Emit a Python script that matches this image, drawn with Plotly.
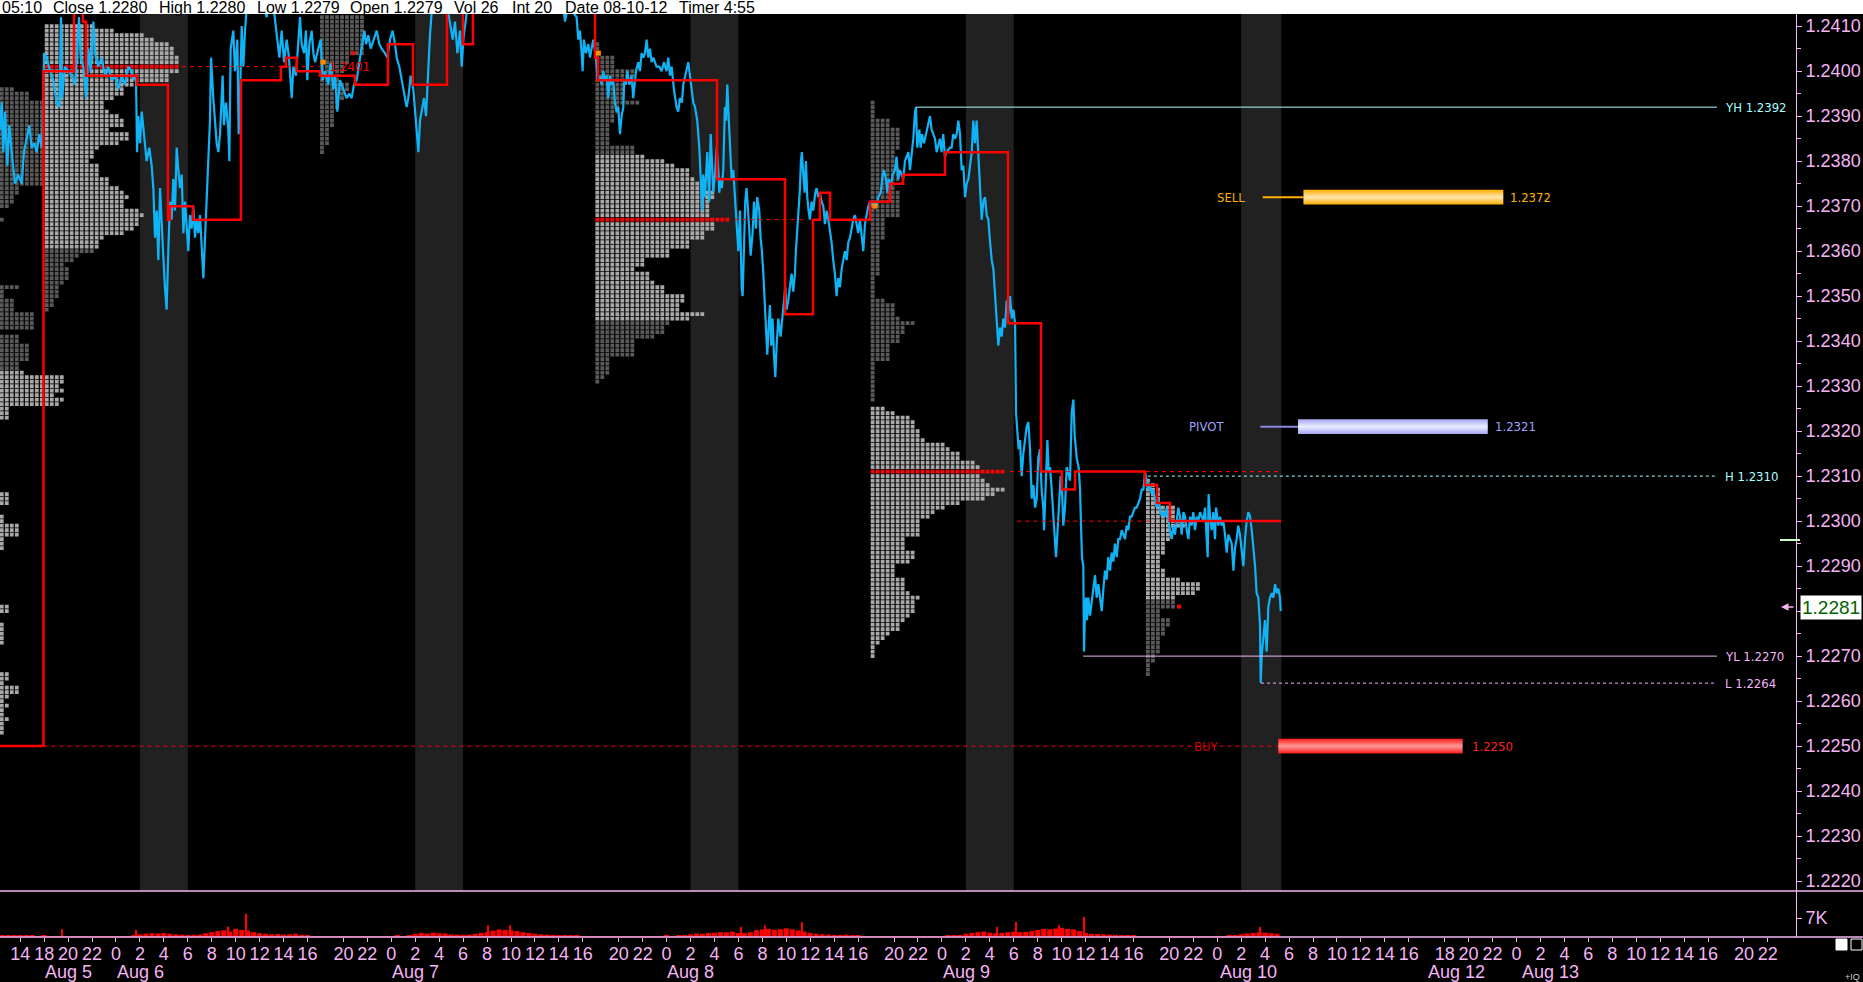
import plotly.graph_objects as go

# ------------------------------------------------------------------ values
# x unit = trading hour index (0 = Aug 6 00:00, the 17:00-18:00 break removed)
HEADER_FIELDS = ["05:10", "Close 1.2280", "High 1.2280", "Low 1.2279", "Open 1.2279",
                 "Vol 26", "Int 20", "Date 08-10-12", "Timer 4:55"]

PATH_FRI_SUN = [
    (-9.69, 1.2387), (-9.55, 1.2393), (-9.41, 1.2382), (-9.27, 1.2391), (-9.08, 1.2379), (-8.91, 1.2388),
    (-8.72, 1.2382), (-8.58, 1.2378), (-8.44, 1.2375), (-8.16, 1.2377), (-7.88, 1.2375), (-7.69, 1.2382),
    (-7.46, 1.2385), (-7.24, 1.2388), (-7.05, 1.2383), (-6.82, 1.2384), (-6.63, 1.2382), (-6.40, 1.2386),
    (-6.21, 1.2383), (-6.13, 1.2387), (-6.01, 1.2404), (-5.79, 1.2403), (-5.51, 1.2400), (-5.23, 1.2398),
    (-4.96, 1.2393), (-4.73, 1.2392), (-4.59, 1.2412), (-4.51, 1.2394), (-4.26, 1.2401), (-3.98, 1.2400),
    (-3.70, 1.2399), (-3.42, 1.2397), (-3.09, 1.2412), (-2.95, 1.2403), (-2.73, 1.2401), (-2.51, 1.2394),
    (-2.31, 1.2405), (-2.12, 1.2400), (-1.89, 1.2411), (-1.75, 1.2404), (-1.47, 1.2401), (-1.20, 1.2403),
    (-0.92, 1.2399), (-0.64, 1.2401), (-0.36, 1.2398), (-0.08, 1.2399), (0.20, 1.2396), (0.47, 1.2399),
    (0.75, 1.2397), (1.03, 1.2401), (1.31, 1.2400), (1.50, 1.2398), (1.67, 1.2399),
]
PATH_AUG6 = [
    (1.76, 1.2382), (1.87, 1.2390), (2.01, 1.2384), (2.15, 1.2391), (2.34, 1.2386), (2.56, 1.2380),
    (2.78, 1.2383), (2.98, 1.2379), (3.12, 1.2374), (3.26, 1.2363), (3.40, 1.2369), (3.54, 1.2358),
    (3.68, 1.2374), (3.82, 1.2365), (3.95, 1.2359), (4.09, 1.2352), (4.23, 1.2347), (4.37, 1.2360),
    (4.51, 1.2371), (4.65, 1.2367), (4.79, 1.2376), (4.93, 1.2369), (5.07, 1.2383), (5.21, 1.2378),
    (5.35, 1.2374), (5.49, 1.2377), (5.63, 1.2364), (5.77, 1.2371), (5.90, 1.2366), (6.04, 1.2360),
    (6.18, 1.2368), (6.32, 1.2365), (6.46, 1.2370), (6.60, 1.2363), (6.74, 1.2367), (6.88, 1.2364),
    (7.02, 1.2368), (7.16, 1.2360), (7.30, 1.2354), (7.44, 1.2363), (7.58, 1.2373), (7.71, 1.2382),
    (7.85, 1.2389), (7.94, 1.2403), (8.13, 1.2394), (8.41, 1.2384), (8.55, 1.2382), (8.69, 1.2386),
    (8.91, 1.2399), (9.02, 1.2388), (9.19, 1.2393), (9.38, 1.2387), (9.47, 1.2380), (9.58, 1.2405),
    (9.80, 1.2409), (9.94, 1.2400), (10.14, 1.2407), (10.25, 1.2386), (10.36, 1.2394), (10.50, 1.2410),
    (10.64, 1.2401), (10.78, 1.2409), (10.92, 1.2414), (11.70, 1.2422), (12.59, 1.2412), (13.00, 1.2418),
    (13.48, 1.2406), (13.65, 1.2403), (13.84, 1.2409), (14.04, 1.2402), (14.26, 1.2407), (14.45, 1.2403),
    (14.68, 1.2394), (14.82, 1.2401), (15.04, 1.2399), (15.23, 1.2408), (15.37, 1.2412), (15.51, 1.2406),
    (15.71, 1.2404), (15.87, 1.2409), (15.98, 1.2398), (16.15, 1.2406), (16.35, 1.2409), (16.49, 1.2404),
    (16.63, 1.2402), (16.90, 1.2405),
]
PATH_AUG7 = [
    (17.10, 1.2407), (17.27, 1.2398), (17.46, 1.2400), (17.74, 1.2397), (17.93, 1.2402), (18.16, 1.2396),
    (18.30, 1.2399), (18.49, 1.2391), (18.71, 1.2398), (18.99, 1.2396), (19.27, 1.2394), (19.49, 1.2395),
    (19.69, 1.2394), (19.88, 1.2397), (20.11, 1.2398), (20.33, 1.2402), (20.52, 1.2405), (20.75, 1.2409),
    (20.89, 1.2406), (21.08, 1.2408), (21.28, 1.2405), (21.50, 1.2407), (21.78, 1.2409), (22.00, 1.2406),
    (22.19, 1.2405), (22.47, 1.2404), (22.67, 1.2403), (22.89, 1.2407), (23.11, 1.2409), (23.31, 1.2406),
    (23.45, 1.2403), (23.67, 1.2401), (23.87, 1.2398), (24.06, 1.2396), (24.28, 1.2392), (24.42, 1.2394),
    (24.62, 1.2399), (24.84, 1.2396), (25.06, 1.2388), (25.26, 1.2382), (25.40, 1.2389), (25.54, 1.2391),
    (25.73, 1.2394), (25.90, 1.2390), (26.07, 1.2400), (26.23, 1.2408), (26.37, 1.2413), (27.20, 1.2422),
    (28.13, 1.2407), (28.32, 1.2411), (28.52, 1.2404), (28.74, 1.2409), (28.88, 1.2401), (29.02, 1.2407),
    (29.16, 1.2410), (29.30, 1.2413), (30.00, 1.2424), (37.00, 1.2424),
]
PATH_AUG8 = [
    (37.51, 1.2411), (37.65, 1.2413), (37.92, 1.2414), (38.48, 1.2412), (38.62, 1.2407), (38.76, 1.2409),
    (38.90, 1.2404), (38.98, 1.2400), (39.09, 1.2407), (39.26, 1.2404), (39.46, 1.2406), (39.60, 1.2403),
    (39.73, 1.2405), (39.87, 1.2407), (40.10, 1.2403), (40.24, 1.2398), (40.43, 1.2399), (40.57, 1.2397),
    (40.71, 1.2400), (40.85, 1.2398), (40.99, 1.2399), (41.13, 1.2394), (41.27, 1.2399), (41.40, 1.2397),
    (41.54, 1.2398), (41.68, 1.2393), (41.82, 1.2391), (41.96, 1.2392), (42.10, 1.2386), (42.24, 1.2390),
    (42.38, 1.2392), (42.46, 1.2398), (42.60, 1.2397), (42.71, 1.2400), (42.88, 1.2397), (43.08, 1.2399),
    (43.21, 1.2394), (43.44, 1.2400), (43.63, 1.2402), (43.77, 1.2400), (43.91, 1.2404), (44.05, 1.2403),
    (44.19, 1.2404), (44.33, 1.2407), (44.47, 1.2403), (44.61, 1.2405), (44.75, 1.2402), (44.89, 1.2403),
    (45.02, 1.2402), (45.16, 1.2401), (45.39, 1.2401), (45.58, 1.2400), (45.78, 1.2402), (46.00, 1.2400),
    (46.14, 1.2403), (46.28, 1.2399), (46.42, 1.2401), (46.61, 1.2396), (46.83, 1.2392), (46.97, 1.2391),
    (47.11, 1.2394), (47.28, 1.2393), (47.39, 1.2397), (47.62, 1.2400), (47.81, 1.2402), (47.95, 1.2399),
    (48.09, 1.2396), (48.23, 1.2393), (48.37, 1.2392), (48.56, 1.2389), (48.73, 1.2383), (48.84, 1.2375),
    (48.98, 1.2369), (49.06, 1.2377), (49.20, 1.2372), (49.40, 1.2382), (49.56, 1.2371), (49.68, 1.2386),
    (49.79, 1.2378), (49.90, 1.2373), (50.04, 1.2377), (50.18, 1.2383), (50.32, 1.2378), (50.40, 1.2373),
    (50.51, 1.2376), (50.62, 1.2374), (50.73, 1.2378), (50.87, 1.2392), (50.96, 1.2389), (51.07, 1.2397),
    (51.18, 1.2390), (51.29, 1.2384), (51.43, 1.2376), (51.57, 1.2378), (51.74, 1.2371), (51.85, 1.2364),
    (51.99, 1.2360), (52.13, 1.2369), (52.27, 1.2352), (52.35, 1.2350), (52.46, 1.2364), (52.57, 1.2371),
    (52.68, 1.2374), (52.79, 1.2368), (52.90, 1.2365), (53.02, 1.2359), (53.18, 1.2364), (53.30, 1.2371),
    (53.46, 1.2365), (53.57, 1.2372), (53.74, 1.2369), (53.85, 1.2363), (53.96, 1.2360), (54.08, 1.2355),
    (54.19, 1.2348), (54.30, 1.2341), (54.41, 1.2337), (54.52, 1.2343), (54.63, 1.2348), (54.74, 1.2339),
    (54.85, 1.2345), (54.97, 1.2337), (55.08, 1.2332), (55.19, 1.2339), (55.33, 1.2345), (55.52, 1.2341),
    (55.69, 1.2346), (55.80, 1.2350), (55.91, 1.2352), (56.02, 1.2347), (56.16, 1.2349), (56.30, 1.2352),
    (56.44, 1.2355), (56.58, 1.2351), (56.72, 1.2355), (56.80, 1.2360), (56.92, 1.2365), (57.03, 1.2369),
    (57.14, 1.2374), (57.22, 1.2380), (57.30, 1.2382), (57.42, 1.2377), (57.53, 1.2373), (57.64, 1.2380),
    (57.75, 1.2372), (57.86, 1.2369), (57.97, 1.2367), (58.11, 1.2371), (58.25, 1.2369), (58.42, 1.2373),
    (58.53, 1.2374), (58.67, 1.2372), (58.81, 1.2373), (58.95, 1.2371), (59.09, 1.2370), (59.23, 1.2366),
    (59.37, 1.2369), (59.51, 1.2367), (59.64, 1.2365), (59.78, 1.2362), (59.92, 1.2358), (60.06, 1.2355),
    (60.20, 1.2350), (60.34, 1.2354), (60.48, 1.2352), (60.62, 1.2356), (60.76, 1.2358), (60.90, 1.2360),
    (61.04, 1.2358), (61.18, 1.2362), (61.32, 1.2363), (61.45, 1.2365), (61.59, 1.2367), (61.73, 1.2368),
    (61.87, 1.2366), (62.01, 1.2364), (62.15, 1.2367), (62.29, 1.2364), (62.43, 1.2360), (62.57, 1.2366),
    (62.71, 1.2368), (62.85, 1.2370),
]
PATH_AUG9 = [
    (62.99, 1.2371), (63.13, 1.2370), (63.26, 1.2371), (63.54, 1.2370), (63.68, 1.2372), (63.88, 1.2373),
    (64.05, 1.2377), (64.16, 1.2378), (64.32, 1.2376), (64.43, 1.2373), (64.55, 1.2376), (64.71, 1.2374),
    (64.88, 1.2377), (65.07, 1.2378), (65.21, 1.2381), (65.35, 1.2376), (65.49, 1.2378), (65.63, 1.2377),
    (65.77, 1.2376), (65.91, 1.2380), (66.05, 1.2381), (66.19, 1.2382), (66.33, 1.2378), (66.47, 1.2382),
    (66.61, 1.2385), (66.75, 1.2391), (66.83, 1.2392), (66.94, 1.2383), (67.11, 1.2387), (67.22, 1.2383),
    (67.33, 1.2386), (67.50, 1.2384), (67.66, 1.2386), (67.86, 1.2388), (68.00, 1.2390), (68.14, 1.2387),
    (68.28, 1.2386), (68.42, 1.2385), (68.56, 1.2382), (68.70, 1.2384), (68.83, 1.2385), (68.97, 1.2382),
    (69.11, 1.2386), (69.25, 1.2381), (69.39, 1.2382), (69.67, 1.2383), (69.81, 1.2383), (69.95, 1.2386),
    (70.09, 1.2385), (70.23, 1.2386), (70.37, 1.2389), (70.51, 1.2386), (70.65, 1.2378), (70.79, 1.2379),
    (70.93, 1.2372), (71.07, 1.2375), (71.21, 1.2376), (71.35, 1.2379), (71.49, 1.2382), (71.62, 1.2389),
    (71.76, 1.2384), (71.90, 1.2389), (72.04, 1.2382), (72.13, 1.2375), (72.24, 1.2370), (72.32, 1.2367),
    (72.46, 1.2371), (72.60, 1.2372), (72.74, 1.2368), (72.88, 1.2367), (73.02, 1.2362), (73.16, 1.2358),
    (73.30, 1.2356), (73.43, 1.2351), (73.57, 1.2346), (73.71, 1.2339), (73.85, 1.2343), (73.99, 1.2341),
    (74.13, 1.2345), (74.27, 1.2343), (74.41, 1.2349), (74.55, 1.2346), (74.69, 1.2350), (74.83, 1.2345),
    (74.97, 1.2347), (75.11, 1.2344), (75.19, 1.2324), (75.30, 1.2319), (75.41, 1.2316), (75.52, 1.2318),
    (75.66, 1.2310), (75.80, 1.2315), (75.94, 1.2318), (76.08, 1.2321), (76.22, 1.2322), (76.36, 1.2316),
    (76.50, 1.2305), (76.64, 1.2308), (76.78, 1.2303), (76.92, 1.2305), (77.05, 1.2314), (77.19, 1.2316),
    (77.33, 1.2307), (77.47, 1.2303), (77.53, 1.2298), (77.70, 1.2310), (77.81, 1.2318), (77.92, 1.2311),
    (78.03, 1.2312), (78.17, 1.2307), (78.31, 1.2301), (78.45, 1.2297), (78.53, 1.2292), (78.64, 1.2297),
    (78.78, 1.2305), (78.92, 1.2310), (79.03, 1.2307), (79.14, 1.2299), (79.28, 1.2303), (79.42, 1.2312),
    (79.53, 1.2311), (79.70, 1.2309), (79.84, 1.2324), (79.98, 1.2327), (80.09, 1.2319), (80.26, 1.2314),
    (80.42, 1.2312), (80.54, 1.2307), (80.62, 1.2299), (80.70, 1.2292), (80.81, 1.2290), (80.87, 1.2271),
    (80.95, 1.2280), (81.04, 1.2283), (81.12, 1.2278), (81.23, 1.2283), (81.37, 1.2279), (81.51, 1.2282),
    (81.65, 1.2285), (81.79, 1.2288), (81.93, 1.2283), (82.07, 1.2286), (82.21, 1.2283), (82.35, 1.2280),
    (82.49, 1.2285), (82.62, 1.2289), (82.76, 1.2287), (82.90, 1.2292), (83.04, 1.2289), (83.18, 1.2293),
    (83.32, 1.2291), (83.46, 1.2295), (83.60, 1.2292), (83.74, 1.2296), (83.88, 1.2296), (84.02, 1.2298),
    (84.16, 1.2297), (84.30, 1.2296), (84.43, 1.2299), (84.57, 1.2298), (84.71, 1.2301), (84.85, 1.2301),
    (84.99, 1.2302), (85.13, 1.2303), (85.27, 1.2303), (85.41, 1.2304), (85.55, 1.2305), (85.69, 1.2307),
    (85.83, 1.2307),
]
PATH_AUG10 = [
    (85.97, 1.2311), (86.11, 1.2309), (86.24, 1.2307), (86.38, 1.2308), (86.52, 1.2306), (86.66, 1.2307),
    (86.80, 1.2305), (86.94, 1.2303), (87.08, 1.2305), (87.22, 1.2303), (87.36, 1.2301), (87.50, 1.2302),
    (87.64, 1.2301), (87.78, 1.2303), (87.92, 1.2300), (88.05, 1.2298), (88.19, 1.2296), (88.33, 1.2299),
    (88.47, 1.2297), (88.61, 1.2300), (88.75, 1.2303), (88.89, 1.2301), (89.03, 1.2297), (89.17, 1.2302),
    (89.31, 1.2301), (89.45, 1.2298), (89.59, 1.2296), (89.73, 1.2301), (89.86, 1.2299), (90.00, 1.2302),
    (90.14, 1.2298), (90.28, 1.2301), (90.42, 1.2300), (90.56, 1.2302), (90.70, 1.2301), (90.84, 1.2300),
    (90.98, 1.2303), (91.12, 1.2296), (91.20, 1.2292), (91.28, 1.2306), (91.40, 1.2301), (91.54, 1.2298),
    (91.67, 1.2302), (91.81, 1.2296), (91.90, 1.2303), (92.09, 1.2299), (92.23, 1.2301), (92.37, 1.2299),
    (92.51, 1.2300), (92.65, 1.2297), (92.79, 1.2293), (92.93, 1.2297), (93.07, 1.2296), (93.21, 1.2295),
    (93.35, 1.2289), (93.48, 1.2294), (93.62, 1.2296), (93.76, 1.2299), (93.90, 1.2297), (94.04, 1.2294),
    (94.18, 1.2290), (94.32, 1.2296), (94.46, 1.2300), (94.60, 1.2302), (94.74, 1.2301), (94.88, 1.2298),
    (95.02, 1.2294), (95.16, 1.2290), (95.29, 1.2284), (95.43, 1.2283), (95.57, 1.2277), (95.63, 1.2264),
    (95.71, 1.2270), (95.85, 1.2275), (95.99, 1.2278), (96.13, 1.2271), (96.27, 1.2281), (96.41, 1.2283),
    (96.55, 1.2284), (96.69, 1.2283), (96.83, 1.2286), (96.97, 1.2284), (97.10, 1.2285), (97.24, 1.2283),
    (97.30, 1.2280),
]

# red stepped level line (time, level from that time on)
STEP_LEVELS = [
    (-9.69, 1.2250), (-6.06, 1.2400), (-3.51, 1.2416), (-2.76, 1.2411), (-2.50, 1.2399), (1.75, 1.2397),
    (4.34, 1.2367), (4.50, 1.2370), (6.43, 1.2367), (10.44, 1.2398), (13.78, 1.2401), (14.20, 1.2403),
    (15.10, 1.2400), (17.04, 1.2399), (19.97, 1.2397), (22.72, 1.2406), (24.81, 1.2397), (27.65, 1.2416),
    (28.99, 1.2406), (29.82, 1.2416), (40.02, 1.2403), (40.27, 1.2398), (50.21, 1.2376), (55.89, 1.2346),
    (58.23, 1.2367), (58.81, 1.2373), (59.65, 1.2367), (62.99, 1.2371), (64.66, 1.2375), (65.75, 1.2377),
    (69.26, 1.2382), (74.52, 1.2344), (77.28, 1.2311), (79.03, 1.2307), (80.12, 1.2311), (85.96, 1.2308),
    (86.97, 1.2304), (88.05, 1.2300), (97.33, 1.2300),
]

# market profiles: counts of squares per 1-pip row, from the top price down
PROF_LEFT_COUNTS = ([3, 6, 6] + [9] * 19 + [4, 4, 3, 3, 2, 0, 0, 1] + [0] * 14 +
                    [4, 1, 1, 3, 3, 3, 7, 7, 7, 7, 0, 4, 4, 6, 6, 6, 6, 4, 4] +
                    [5, 13, 13, 12, 13, 11, 13, 12, 2, 2, 2] + [0] * 16 +
                    [2, 2, 2, 0, 0, 1, 1, 4, 4, 4, 1, 1, 1] + [0] * 12 +
                    [2, 2, 0, 0, 1, 1, 1, 1, 1] + [0] * 6 +
                    [2, 2, 1, 4, 4, 2, 1, 2, 1, 1, 2, 1, 1, 1])
PROF_AUG6_COUNTS = [10, 14, 20, 22, 25, 26, 26, 27, 27, 27, 27, 25, 25, 18, 16, 16, 14, 12, 12, 13,
                    15, 16, 16, 13, 17, 17, 15, 11, 10, 10, 9, 11, 11, 11, 13, 13, 15, 16, 17, 16,
                    16, 19, 20, 19, 19, 18, 16, 12, 11, 11, 10, 7, 6, 4, 5, 5, 5, 4, 3, 3, 3, 2, 2, 1]
PROF_AUG7_COUNTS = [9, 9, 9, 9, 9, 9, 9, 9, 9, 6, 6, 5, 5, 4, 4, 6, 6, 5, 5, 4, 4, 3, 3, 3, 3, 2, 2, 2, 2, 1, 1]
PROF_AUG8_COUNTS = [1, 1, 1, 4, 4, 4, 8, 8, 6, 6, 6, 6, 6, 9, 5, 5, 4, 4, 3, 3, 3, 3, 3, 8, 8,
                    10, 14, 16, 19, 19, 20, 21, 21, 24, 24, 23, 23, 23, 23, 27, 24, 24, 22, 22, 19,
                    19, 15, 15, 10, 10, 8, 11, 11, 12, 14, 14, 18, 18, 17, 17, 22, 19,
                    15, 14, 14, 12, 8, 8, 8, 8, 3, 3, 3, 3, 2, 1]
PROF_AUG9_COUNTS = ([1, 1, 1, 1, 4, 4, 6, 6, 6, 6, 6, 5, 5, 5, 5, 6, 6, 6, 5, 5, 6, 6, 6, 6, 6, 6,
                     3, 3, 3, 3, 3, 2, 2, 2, 2, 2, 2, 2, 2, 1, 1, 1, 1, 1, 3, 5, 5, 5, 6, 9, 7, 7,
                     6, 6, 4, 4, 4, 4, 1] + [1] * 8 + [0] +
                    [3, 5, 8, 9, 9, 10, 10, 11, 15, 16, 18, 18, 21, 22, 27, 22, 23, 24, 27, 25,
                     23, 18, 15, 13, 12, 10, 10, 10, 10, 7, 7, 7, 9, 9, 8, 5, 5, 5, 7, 7,
                     7, 8, 10, 9, 9, 9, 8, 7, 6, 6, 4, 3, 2, 1, 1, 1])
PROF_AUG10_COUNTS = [1, 2, 3, 3, 3, 3, 6, 6, 6, 8, 8, 5, 5, 5, 4, 4, 4, 3, 3, 3, 4, 4, 7, 11, 11, 10, 6,
                     6, 6, 3, 3, 5, 5, 4, 4, 3, 3, 3, 3, 2, 2, 1, 1, 1]
# (start time, top price, counts, light-zone low, light-zone high, POC price)
PROFILES = [
    (-9.75, 1.2396, PROF_LEFT_COUNTS, 1.2200, 1.2333, None),
    (-6.0, 1.2410, PROF_AUG6_COUNTS, 1.2361, 1.2420, 1.2401),
    (17.0, 1.2412, PROF_AUG7_COUNTS, 1.2500, 1.2500, None),
    (40.0, 1.2406, PROF_AUG8_COUNTS, 1.2345, 1.2381, 1.2367),
    (63.0, 1.2393, PROF_AUG9_COUNTS, 1.2200, 1.2325, 1.2311),
    (86.0, 1.2309, PROF_AUG10_COUNTS, 1.2283, 1.2320, None),
]
OPEN_MARK_T = [17.3, 40.3, 63.4]
OPEN_MARK_P = [1.2402, 1.2404, 1.2370]
RED_MARK_T = [19.8, 88.8]
RED_MARK_P = [1.2404, 1.2281]

# naked POC / reference extensions: (t0, t1, level)
RED_DASHED = [(5.5, 17.0, 1.2401), (51.7, 57.4, 1.2367), (74.7, 97.3, 1.2311), (75.3, 86.5, 1.2300),
              (-6.06, 97.1, 1.2250)]
LEVEL_NAMES = ["YH", "H", "YL", "L"]
LEVEL_VALUES = [1.2392, 1.2310, 1.2270, 1.2264]
LEVEL_START = [66.83, 86.2, 80.8, 95.66]
LEVEL_END = 133.75

SELL, PIVOT, BUY = 1.2372, 1.2321, 1.2250
SELL_SPAN, PIVOT_SPAN, BUY_SPAN = (99.2, 115.9), (98.75, 114.6), (97.1, 112.5)

BAND_START = [2, 25, 48, 71, 94]
BAND_END = [6, 29, 52, 75, 97.35]

# volume, 30-minute bins starting at t = -9.75
VOL_T0, VOL_BIN = -9.75, 0.5
VOL_FRI = [600, 500, 700, 400, 500, 600, 350, 400]
VOL_SUN = [300, 250, 350, 200, 300, 250, 200, 150, 250, 200, 150, 250, 200, 300, 400]
VOL_AUG6 = [1000, 1200, 1400, 1300, 1500, 1200, 1000, 900, 700, 800, 900, 1400, 1800, 2200, 2500,
            2000, 3000, 2600, 2400, 1800, 1400, 1200, 1000, 1100, 900, 1000, 1200, 800, 500, 300]
VOL_EVE6 = [200, 150, 250, 300, 200, 250, 300, 250, 200, 300, 350, 250, 300, 400, 350, 500]
VOL_AUG7 = [1200, 1500, 1300, 1600, 1400, 1300, 1000, 900, 800, 900, 1100, 1500, 1800, 2400, 2800,
            2600, 2500, 2200, 1800, 1500, 1200, 1000, 900, 800, 700, 800, 600, 500, 300, 250]
VOL_EVE7 = [200, 250, 200, 300, 250, 200, 300, 250, 350, 300, 250, 300, 400, 350, 450, 500]
VOL_AUG8 = [1000, 1300, 1200, 1500, 1600, 1800, 1700, 2000, 1500, 1400, 1800, 2500, 2800, 3000, 2600,
            2900, 3200, 2800, 2400, 2000, 1500, 1200, 1000, 900, 800, 700, 900, 600, 400, 300]
VOL_EVE8 = [200, 250, 300, 200, 250, 300, 200, 250, 300, 250, 300, 350, 300, 400, 450, 500]
VOL_AUG9 = [1200, 1500, 1800, 2000, 1600, 1400, 1500, 1800, 2000, 1800, 1900, 2200, 2600, 3000, 2800,
            3100, 3400, 3000, 2800, 2200, 1500, 1200, 1100, 1000, 900, 800, 700, 600, 400, 300]
VOL_EVE9 = [300, 250, 200, 300, 250, 200, 300, 250, 200, 300, 250, 300, 350, 300, 400, 500]
VOL_AUG10 = [1000, 1300, 1500, 1800, 1600, 1400, 1200]
VOL_SPIKE_T = [-4.5, 1.7, 9.4, 10.9, 31.1, 32.9, 52.2, 54.2, 57.3, 73.6, 75.2, 78.8, 80.9, 95.6]
VOL_SPIKE_V = [3000, 2600, 3800, 8600, 4300, 4300, 3700, 4300, 5500, 3700, 5500, 4300, 7400, 3700]

# axis labels
SESSION_MIDNIGHT = [0, 23, 46, 69, 92, 117]
SUNDAY_SESSIONS = [0, 117]
DAY_HOURS = [0, 2, 4, 6, 8, 10, 12, 14, 16]
DATE_TEXT = ["Aug 5", "Aug 6", "Aug 7", "Aug 8", "Aug 9", "Aug 10", "Aug 12", "Aug 13"]
DATE_T = [-6.1, -0.1, 22.9, 45.9, 68.9, 92.1, 109.4, 117.3]

# ------------------------------------------------------------------ style / layout
W, H = 1863, 982
ML, MR, MT, MB = 0, 67, 14, 45
PW, PH = W - ML - MR, H - MT - MB
VOL_FRAC = 46 / PH
X_RANGE = [-9.69, 140.35]
Y_RANGE = [1.22178, 1.24127]
PINK = "#f4b4f4"
BLUE = "#10b4f6"
RED = "#ff0000"
LIGHT = "#a9a9a9"
DARK = "#5a5a5a"
BANDC = "#212121"
CYAN = "#a8ffff"
AXFONT = "Liberation Sans, Arial, sans-serif"
NARROW = "Liberation Sans Narrow, DejaVu Sans Condensed, Liberation Sans, sans-serif"
PITCH_T = 5 / 11.97
PIP = 0.0001


def pxx(x):
    return (x - ML) / PW


def pxy(y):
    return (H - MB - y) / PH


fig = go.Figure()

# profiles
cells = {"light": ([], []), "dark": ([], []), "poc": ([], [])}
for start, top, counts, lo, hi, poc in PROFILES:
    for k, c in enumerate(counts):
        p = round(top - k * PIP, 4)
        if poc is not None and abs(p - poc) < 1e-9:
            key = "poc"
        elif lo - 1e-9 <= p <= hi + 1e-9:
            key = "light"
        else:
            key = "dark"
        for j in range(c):
            cells[key][0].append(start + (j + 0.5) * PITCH_T)
            cells[key][1].append(p)
for key, col in (("dark", DARK), ("light", LIGHT), ("poc", RED)):
    fig.add_trace(go.Scatter(x=cells[key][0], y=cells[key][1], mode="markers",
                             marker=dict(symbol="square", size=3.8, color=col, line=dict(width=0)),
                             hoverinfo="skip", showlegend=False))

# price path
path = PATH_FRI_SUN + PATH_AUG6 + PATH_AUG7 + PATH_AUG8 + PATH_AUG9 + PATH_AUG10
fig.add_trace(go.Scatter(x=[a for a, b in path], y=[b for a, b in path], mode="lines",
                         line=dict(color=BLUE, width=2.2), hoverinfo="skip", showlegend=False))

# dashed POC extensions
for t0, t1, lv in RED_DASHED:
    fig.add_trace(go.Scatter(x=[t0, t1], y=[lv, lv], mode="lines",
                             line=dict(color=RED, width=1, dash="4px,4px"),
                             hoverinfo="skip", showlegend=False))

# step line
fig.add_trace(go.Scatter(x=[a for a, b in STEP_LEVELS], y=[b for a, b in STEP_LEVELS], mode="lines",
                         line=dict(color=RED, width=2.5, shape="hv"), hoverinfo="skip", showlegend=False))

# reference levels
for name, val, t0 in zip(LEVEL_NAMES, LEVEL_VALUES, LEVEL_START):
    col = CYAN if name in ("YH", "H") else PINK
    dash = "solid" if name in ("YH", "YL") else "3px,3px"
    fig.add_trace(go.Scatter(x=[t0, LEVEL_END], y=[val, val], mode="lines",
                             line=dict(color=col, width=1, dash=dash), hoverinfo="skip", showlegend=False))

# open / marker squares
fig.add_trace(go.Scatter(x=OPEN_MARK_T, y=OPEN_MARK_P, mode="markers",
                         marker=dict(symbol="square", size=5, color="#ff8c00"), hoverinfo="skip", showlegend=False))
fig.add_trace(go.Scatter(x=RED_MARK_T, y=RED_MARK_P, mode="markers",
                         marker=dict(symbol="square", size=4, color=RED), hoverinfo="skip", showlegend=False))


def level_bar(span, level, edge, mid):
    h = 0.000165
    x0, x1 = span
    fig.add_trace(go.Scatter(x=[x0, x1, x1, x0, x0], y=[level - h, level - h, level + h, level + h, level - h],
                             mode="lines", fill="toself", line=dict(width=0, color=edge),
                             fillgradient=dict(type="vertical", colorscale=[[0, edge], [0.5, mid], [1, edge]]),
                             hoverinfo="skip", showlegend=False))


fig.add_trace(go.Scatter(x=[95.8, SELL_SPAN[0]], y=[SELL, SELL], mode="lines",
                         line=dict(color="#ffb000", width=2), hoverinfo="skip", showlegend=False))
fig.add_trace(go.Scatter(x=[95.6, PIVOT_SPAN[0]], y=[PIVOT, PIVOT], mode="lines",
                         line=dict(color="#8888e0", width=2), hoverinfo="skip", showlegend=False))
level_bar(SELL_SPAN, SELL, "#ffae00", "#ffe6b0")
level_bar(PIVOT_SPAN, PIVOT, "#a6a6f6", "#ececff")
level_bar(BUY_SPAN, BUY, "#ff1a1a", "#ff9a9a")

# volume
vol = VOL_FRI + VOL_SUN + VOL_AUG6 + VOL_EVE6 + VOL_AUG7 + VOL_EVE7 + VOL_AUG8 + VOL_EVE8 + VOL_AUG9 + VOL_EVE9 + VOL_AUG10
vol_t = [VOL_T0 + (i + 0.5) * VOL_BIN for i in range(len(vol))]
fig.add_trace(go.Bar(x=vol_t, y=vol, width=0.42, marker=dict(color=RED, line=dict(width=0)),
                     yaxis="y2", hoverinfo="skip", showlegend=False))
fig.add_trace(go.Bar(x=VOL_SPIKE_T, y=VOL_SPIKE_V, width=0.12, marker=dict(color=RED, line=dict(width=0)),
                     yaxis="y2", hoverinfo="skip", showlegend=False))

# ticks
tick_t, tick_s = [-10, -8], ["12", "14"]
for m in SESSION_MIDNIGHT:
    eve = [18, 20, 22] if m in SUNDAY_SESSIONS else [20, 22]
    for h in eve:
        tick_t.append(m - (24 - h))
        tick_s.append(str(h))
    for h in DAY_HOURS:
        tick_t.append(m + h)
        tick_s.append(str(h))
for h in (20, 22):
    tick_t.append(SESSION_MIDNIGHT[-1] + 23 - (24 - h))
    tick_s.append(str(h))

shapes = []
for a, b in zip(BAND_START, BAND_END):
    shapes.append(dict(type="rect", xref="x", yref="paper", x0=a, x1=b, y0=VOL_FRAC, y1=1,
                       fillcolor=BANDC, line=dict(width=0), layer="below"))
full_w = W / PW
shapes += [
    dict(type="rect", xref="paper", yref="paper", x0=0, x1=full_w, y0=1, y1=1 + MT / PH,
         fillcolor="white", line=dict(width=0)),
    dict(type="line", xref="paper", yref="paper", x0=0, x1=full_w, y0=VOL_FRAC, y1=VOL_FRAC,
         line=dict(color=PINK, width=1.5)),
    dict(type="line", xref="paper", yref="paper", x0=0, x1=full_w, y0=0, y1=0,
         line=dict(color=PINK, width=1.5)),
    dict(type="line", xref="paper", yref="y", x0=pxx(1780), x1=pxx(1800), y0=1.22958, y1=1.22958,
         line=dict(color="#c8ffc8", width=2)),
    dict(type="rect", xref="paper", yref="paper", x0=pxx(1836), x1=pxx(1847), y0=pxy(950), y1=pxy(939),
         fillcolor="white", line=dict(color="white", width=1)),
    dict(type="rect", xref="paper", yref="paper", x0=pxx(1851), x1=pxx(1862), y0=pxy(950), y1=pxy(939),
         fillcolor="black", line=dict(color="white", width=1)),
]

ann = []
hdr_x = [0, 51, 157, 255, 348, 452, 510, 563, 677]
for txt, x in zip(HEADER_FIELDS, hdr_x):
    ann.append(dict(text=txt, xref="paper", yref="paper", x=pxx(x), y=pxy(7), xanchor="left",
                    yanchor="middle", showarrow=False, font=dict(family=AXFONT, size=16, color="black")))
for txt, t in zip(DATE_TEXT, DATE_T):
    ann.append(dict(text=txt, xref="x", yref="paper", x=t, y=pxy(972), xanchor="left", yanchor="middle",
                    showarrow=False, font=dict(family=AXFONT, size=18, color=PINK)))
for name, val in zip(LEVEL_NAMES, LEVEL_VALUES):
    col = CYAN if name in ("YH", "H") else PINK
    ann.append(dict(text=f"{name} {val:.4f}", xref="x", yref="y", x=LEVEL_END + 0.5, y=val, xanchor="left",
                    yanchor="middle", showarrow=False, font=dict(family=NARROW, size=13, color=col)))


def small(txt, x, y, col, anchor):
    ann.append(dict(text=txt, xref="x", yref="y", x=x, y=y, xanchor=anchor, yanchor="middle",
                    showarrow=False, font=dict(family=NARROW, size=13, color=col)))


small("SELL", 94.5, SELL, "#ffb000", "right")
small(f"{SELL:.4f}", SELL_SPAN[1] + 0.4, SELL, "#ffb000", "left")
small("PIVOT", 92.7, PIVOT, "#a0a0ff", "right")
small(f"{PIVOT:.4f}", PIVOT_SPAN[1] + 0.4, PIVOT, "#a0a0ff", "left")
small("BUY", 91.1, BUY, "#d00000", "center")
small(f"{BUY:.4f}", BUY_SPAN[1] + 0.6, BUY, "#ff2020", "left")
small("1.2401", 17.6, 1.2401, RED, "left")

ann.append(dict(text="1.2281", xref="paper", yref="paper", x=pxx(1831), y=pxy(607), xanchor="center",
                yanchor="middle", showarrow=False, bgcolor="white", borderpad=1,
                font=dict(family=AXFONT, size=19, color="#006400")))
ann.append(dict(text="", xref="paper", yref="paper", x=pxx(1781), y=pxy(607), ax=14, ay=0,
                showarrow=True, arrowhead=2, arrowsize=1, arrowwidth=1.5, arrowcolor=PINK))
ann.append(dict(text="+IQ", xref="paper", yref="paper", x=pxx(1862), y=pxy(977), xanchor="right",
                yanchor="middle", showarrow=False, font=dict(family=AXFONT, size=9, color="#d0d0d0")))

fig.update_layout(
    width=W, height=H, margin=dict(l=ML, r=MR, t=MT, b=MB),
    paper_bgcolor="black", plot_bgcolor="black", hovermode=False, showlegend=False,
    barmode="overlay",
    xaxis=dict(domain=[0, 1], range=X_RANGE, anchor="y2", showgrid=False, zeroline=False, showline=False,
               tickmode="array", tickvals=tick_t, ticktext=tick_s, tickangle=0, ticks="outside",
               ticklen=4, tickcolor=PINK, ticklabelstandoff=-4,
               tickfont=dict(family=AXFONT, size=18, color=PINK)),
    yaxis=dict(domain=[VOL_FRAC, 1], range=Y_RANGE, side="right", anchor="x", showgrid=False,
               zeroline=False, showline=True, linecolor=PINK, linewidth=1, tick0=1.2200, dtick=0.001,
               tickformat=".4f", ticks="outside", ticklen=5, tickcolor=PINK,
               tickfont=dict(family=AXFONT, size=18, color=PINK),
               minor=dict(dtick=0.0005, ticks="outside", ticklen=4, tickcolor=PINK)),
    yaxis2=dict(domain=[0, VOL_FRAC], range=[0, 17000], side="right", anchor="x", showgrid=False,
                zeroline=False, showline=True, linecolor=PINK, linewidth=1, tickmode="array",
                tickvals=[7000], ticktext=["7K"], ticks="outside", ticklen=5, tickcolor=PINK,
                tickfont=dict(family=AXFONT, size=18, color=PINK)),
    shapes=shapes, annotations=ann,
)

fig.write_html("out.html", config={"displayModeBar": False},
               post_script="document.body.style.margin='0px';document.body.style.overflow='hidden';")
